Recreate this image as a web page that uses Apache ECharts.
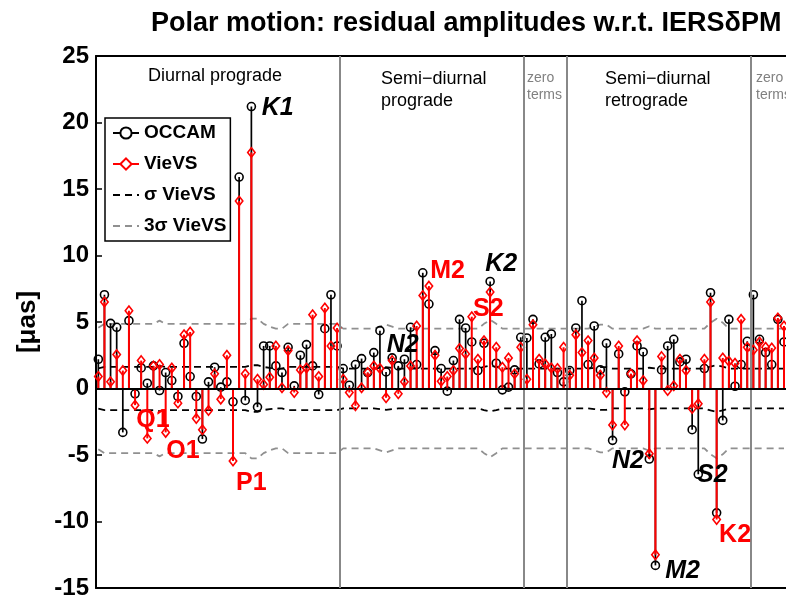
<!DOCTYPE html>
<html><head><meta charset="utf-8">
<script src="https://cdn.jsdelivr.net/npm/echarts@6/dist/echarts.min.js"></script>
<style>html,body{margin:0;padding:0;background:#fff}#c{width:786px;height:600px}</style>
</head><body><div id="c"></div>
<script>
// OCCAM residual amplitudes per tidal term (µas)
const occam = [
 2.2, 7.05, 4.9, 4.6, -3.3, 5.1, -0.4, 1.55, 0.4, 1.7,
 -0.15, 1.2, 0.6, -0.6, 3.4, 0.9, -0.6, -3.8, 0.5, 1.6,
 0.1, 0.5, -1.0, 15.9, -0.9, 21.2, -1.4, 3.2, 3.2, 1.7,
 1.2, 3.1, 0.2, 2.5, 3.3, 1.7, -0.45, 4.5, 7.05, 3.2,
 1.5, 0.25, 1.8, 2.25, 1.2, 2.7, 4.35, 1.25, 2.3, 1.7,
 2.2, 4.6, 1.8, 8.7, 6.35, 2.85, 1.5, -0.2, 2.1, 5.2,
 4.55, 3.5, 1.35, 3.4, 8.05, 1.9, -0.1, 0.1, 1.4, 3.85,
 3.8, 5.2, 1.85, 3.85, 4.1, 1.2, 0.5, 1.35, 4.55, 6.6,
 1.8, 4.7, 1.4, 3.4, -3.9, 2.6, -0.25, 1.1, 3.2, 2.75,
 -5.3, -13.3, 1.4, 3.2, 3.7, 2.0, 2.2, -3.1, -6.45, 1.5,
 7.2, -9.35, -2.4, 5.2, 0.17, 1.8, 3.55, 7.05, 3.7, 2.7,
 1.8, 5.2, 3.5
];
// VieVS residual amplitudes per tidal term (µas)
const vievs = [
 0.9, 6.5, 0.5, 2.55, 1.35, 5.85, -1.25, 2.1, -3.75, 1.7,
 1.8, -3.3, 1.55, -1.1, 4.05, 4.25, -2.25, -3.1, -1.65, 1.1,
 -0.8, 2.5, -5.45, 14.1, 1.1, 17.75, 0.7, 0.3, 0.85, 3.2,
 0.05, 2.85, -0.3, 1.4, 1.55, 5.55, 0.9, 6.05, 3.2, 4.55,
 0.7, -0.3, -1.3, 0.05, 1.2, 1.7, 1.5, -0.7, 2.1, -0.4,
 0.5, 1.7, 4.7, 7.0, 7.7, 2.5, 0.55, 0.9, 1.35, 3.0,
 2.6, 5.4, 2.2, 3.6, 7.25, 3.1, 1.6, 2.3, 1.1, 3.1,
 0.7, 4.8, 2.2, 1.85, 1.55, 1.5, 3.1, 1.0, 4.05, 2.7,
 3.6, 2.3, 1.0, -0.3, -2.75, 3.2, -2.75, 1.1, 3.6, 0.6,
 -4.9, -12.5, 2.4, -0.15, 0.2, 2.2, 1.35, -1.5, -1.15, 2.2,
 6.5, -9.85, 2.3, 2.05, 1.9, 5.2, 3.1, 2.9, 3.5, 3.1,
 3.05, 5.3, 4.7
];
// VieVS formal error (1 sigma) per term (µas)
const sigma = [
 1.52, 1.62, 1.62, 1.62, 1.62, 1.62, 1.62, 1.62, 1.62, 1.62,
 1.70, 1.62, 1.62, 1.62, 1.62, 1.62, 1.62, 1.62, 1.62, 1.62,
 1.62, 1.62, 1.62, 1.62, 1.62, 1.75, 1.75, 1.62, 1.55, 1.50,
 1.50, 1.62, 1.62, 1.62, 1.62, 1.62, 1.62, 1.62, 1.62, 1.62,
 1.50, 1.50, 1.50, 1.50, 1.50, 1.50, 1.55, 1.60, 1.55, 1.50,
 1.50, 1.50, 1.50, 1.50, 1.50, 1.50, 1.50, 1.50, 1.50, 1.50,
 1.50, 1.50, 1.50, 1.62, 1.72, 1.62, 1.50, 1.50, 1.50, 1.50,
 1.50, 1.50, 1.50, 1.50, 1.50, 1.50, 1.50, 1.50, 1.50, 1.50,
 1.50, 1.55, 1.60, 1.60, 1.50, 1.50, 1.50, 1.50, 1.50, 1.50,
 1.56, 1.50, 1.50, 1.50, 1.50, 1.50, 1.50, 1.50, 1.50, 1.50,
 1.65, 1.75, 1.65, 1.50, 1.50, 1.50, 1.50, 1.50, 1.50, 1.50,
 1.50, 1.50, 1.50
];
const yTicks = [-15, -10, -5, 0, 5, 10, 15, 20, 25];
// group separators (between term indices)
const groupBounds = [40.5, 70.5, 77.5, 107.5];
// tidal constituent labels: [term position, value, text, colour, italic]
const tideLabels = [
 [27.7, 21.1, 'K1', '#000', true],
 [7.2, -2.4, 'Q1', '#f00', false],
 [12.1, -4.74, 'O1', '#f00', false],
 [23.5, -7.14, 'P1', '#f00', false],
 [55.2, 8.8, 'M2', '#f00', false],
 [48.1, 3.23, 'N2', '#000', true],
 [62.2, 5.94, 'S2', '#f00', false],
 [64.2, 9.32, 'K2', '#000', true],
 [84.9, -5.49, 'N2', '#000', true],
 [93.6, -13.7, 'M2', '#000', true],
 [98.8, -6.54, 'S2', '#000', true],
 [102.4, -11.0, 'K2', '#f00', false]
];

const FONT = 'Liberation Sans, Arial, Helvetica, sans-serif';
const pos = occam.map((_, i) => i + 1);
const occamData = pos.map((x, i) => [x, occam[i]]);
const vievsData = pos.map((x, i) => [x, vievs[i]]);
const sigP = pos.map((x, i) => [x, sigma[i]]);
const sigN = pos.map((x, i) => [x, -sigma[i]]);
const sig3P = pos.map((x, i) => [x, 3 * sigma[i]]);
const sig3N = pos.map((x, i) => [x, -3 * sigma[i]]);

function stemRender(color, width, shape) {
  return function (params, api) {
    const x = api.value(0), y = api.value(1);
    const b = api.coord([x, 0]), t = api.coord([x, y]);
    const children = [{
      type: 'line', shape: { x1: b[0], y1: b[1], x2: t[0], y2: t[1] },
      style: { stroke: color, lineWidth: width }
    }];
    if (shape === 'circle') {
      children.push({ type: 'circle', shape: { cx: t[0], cy: t[1], r: 4 },
        style: { stroke: color, fill: 'none', lineWidth: 1.6 } });
    } else {
      children.push({ type: 'polygon', shape: { points: [[t[0], t[1] - 4.7], [t[0] + 3.7, t[1]], [t[0], t[1] + 4.7], [t[0] - 3.7, t[1]]] },
        style: { stroke: color, fill: 'none', lineWidth: 1.6 } });
    }
    return { type: 'group', children };
  };
}

const chart = echarts.init(document.getElementById('c'));
chart.setOption({
  animation: false,
  backgroundColor: '#fff',
  textStyle: { fontFamily: FONT },
  title: {
    text: 'Polar motion: residual amplitudes w.r.t. IERSδPM',
    left: 146, top: 5,
    textStyle: { fontFamily: FONT, fontSize: 27, fontWeight: 'bold', color: '#000' }
  },
  grid: { left: 96, right: 0, top: 56, bottom: 12 },
  xAxis: [{
    type: 'value', min: 0.62, max: 113.33, position: 'bottom',
    axisLine: { show: true, onZero: false, lineStyle: { color: '#000', width: 2 } },
    axisTick: { show: false }, axisLabel: { show: false }, splitLine: { show: false }
  }, {
    type: 'value', min: 0.62, max: 113.33, position: 'top',
    axisLine: { show: true, onZero: false, lineStyle: { color: '#000', width: 2 } },
    axisTick: { show: false }, axisLabel: { show: false }, splitLine: { show: false }
  }],
  yAxis: {
    type: 'value', min: yTicks[0], max: yTicks[yTicks.length - 1], interval: 5,
    name: '[μas]', nameLocation: 'middle', nameGap: 55, nameRotate: 90,
    nameTextStyle: { fontFamily: FONT, fontSize: 26, fontWeight: 'bold', color: '#000' },
    axisLine: { show: true, lineStyle: { color: '#000', width: 2 } },
    axisTick: { show: true, inside: true, length: 6, lineStyle: { color: '#000', width: 1.5 } },
    axisLabel: { fontFamily: FONT, fontSize: 24, fontWeight: 'bold', color: '#000', margin: 7 },
    splitLine: { show: false }
  },
  legend: {
    orient: 'vertical', left: 105, top: 118,
    backgroundColor: '#fff', borderColor: '#000', borderWidth: 1.5,
    padding: [5, 4, 5, 7], itemGap: 11, itemWidth: 26, itemHeight: 14,
    textStyle: { fontFamily: FONT, fontSize: 19, fontWeight: 'bold', color: '#000', lineHeight: 20 },
    data: [
      'OCCAM', 'VieVS',
      { name: 'σ VieVS', itemStyle: { opacity: 0 } },
      { name: '3σ VieVS', itemStyle: { opacity: 0 } }
    ]
  },
  graphic: [
    { type: 'text', left: 148, top: 67, style: { text: 'Diurnal prograde', font: '18px ' + FONT, fill: '#000' } },
    { type: 'text', left: 381, top: 68, style: { text: 'Semi−diurnal\nprograde', font: '18px ' + FONT, fill: '#000', lineHeight: 22 } },
    { type: 'text', left: 527, top: 70, style: { text: 'zero\nterms', font: '14px ' + FONT, fill: '#808080', lineHeight: 17 } },
    { type: 'text', left: 605, top: 68, style: { text: 'Semi−diurnal\nretrograde', font: '18px ' + FONT, fill: '#000', lineHeight: 22 } },
    { type: 'text', left: 756, top: 70, style: { text: 'zero\nterms', font: '14px ' + FONT, fill: '#808080', lineHeight: 17 } }
  ],
  series: [
    { name: 'OCCAM', type: 'line', data: [], symbol: 'emptyCircle', symbolSize: 8,
      itemStyle: { color: '#000', borderWidth: 1.6 }, lineStyle: { color: '#000', width: 1.6 } },
    { name: 'VieVS', type: 'line', data: [], symbol: 'emptyDiamond', symbolSize: [8, 10],
      itemStyle: { color: '#f00', borderWidth: 1.6 }, lineStyle: { color: '#f00', width: 2 } },
    { name: 'σ VieVS', type: 'line', data: sigP, symbol: 'none', z: 2,
      itemStyle: { color: '#000' },
      lineStyle: { color: '#000', width: 1.8, type: [7, 5] } },
    { name: 'σ VieVS (neg)', type: 'line', data: sigN, symbol: 'none', z: 2,
      itemStyle: { color: '#000' },
      lineStyle: { color: '#000', width: 1.8, type: [7, 5] } },
    { name: '3σ VieVS', type: 'line', data: sig3P, symbol: 'none', z: 2,
      itemStyle: { color: '#909090' },
      lineStyle: { color: '#909090', width: 1.8, type: [7, 5] } },
    { name: '3σ VieVS (neg)', type: 'line', data: sig3N, symbol: 'none', z: 2,
      itemStyle: { color: '#909090' },
      lineStyle: { color: '#909090', width: 1.8, type: [7, 5] } },
    { name: 'separators', type: 'line', data: [], z: 1,
      markLine: { silent: true, symbol: 'none', label: { show: false },
        lineStyle: { color: '#888', width: 2, type: 'solid' },
        data: groupBounds.map(v => ({ xAxis: v })) } },
    { name: 'OCCAM stems', type: 'custom', data: occamData, z: 3,
      renderItem: stemRender('#000', 1.7, 'circle') },
    { name: 'VieVS stems', type: 'custom', data: vievsData, z: 4,
      renderItem: stemRender('#f00', 2, 'diamond') },
    { name: 'baseline', type: 'line', data: [], z: 5,
      markLine: { silent: true, symbol: 'none', label: { show: false },
        lineStyle: { color: '#000', width: 2, type: 'solid' },
        data: [{ yAxis: 0 }] } },
    { name: 'labels', type: 'scatter', symbolSize: 0, z: 6,
      itemStyle: { opacity: 1 },
      data: tideLabels.map(d => ({
        value: [d[0], d[1]],
        label: { show: true, position: 'right', distance: 0, formatter: d[2],
          color: d[3], opacity: 1, fontStyle: d[4] ? 'italic' : 'normal', fontWeight: 'bold',
          fontSize: 25, fontFamily: FONT, verticalAlign: 'middle', align: 'left' }
      })) }
  ]
});
</script></body></html>
